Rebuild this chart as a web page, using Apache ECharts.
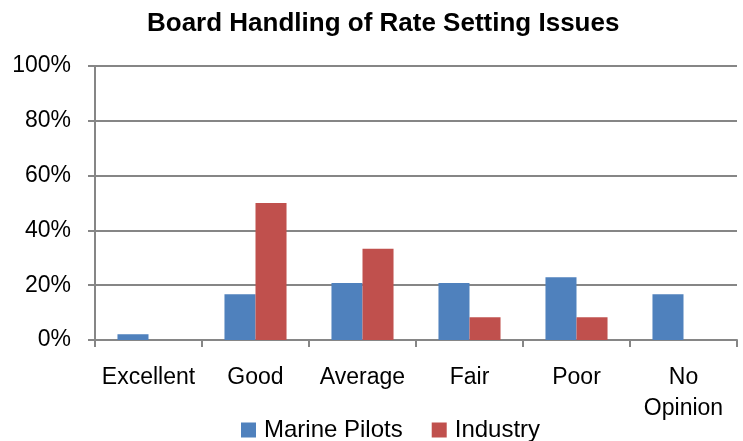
<!DOCTYPE html>
<html><head><meta charset="utf-8">
<script src="https://cdn.jsdelivr.net/npm/echarts@6/dist/echarts.min.js"></script>
<style>html,body{margin:0;padding:0;background:#fff}#c{width:743px;height:441px}</style>
</head><body><div id="c"></div>
<script>
var categories = ['Excellent', 'Good', 'Average', 'Fair', 'Poor', 'No\nOpinion'];
var marinePilots = [2.1, 16.7, 20.8, 20.8, 22.9, 16.7];
var industry = [0, 50, 33.3, 8.3, 8.3, 0];
var seriesNames = ['Marine Pilots', 'Industry'];
var font = 'Liberation Sans, Arial, sans-serif';
var chart = echarts.init(document.getElementById('c'));
chart.setOption({
  animation: false,
  title: { text: 'Board Handling of Rate Setting Issues', left: 142, top: 6,
    textStyle: { fontFamily: font, fontWeight: 'bold', fontSize: 26, color: '#000' } },
  legend: { top: 413, left: 236, itemWidth: 15, itemHeight: 15, itemGap: 29, icon: 'rect',
    textStyle: { fontFamily: font, fontSize: 24, color: '#000', padding: [0, 0, 0, 3] }, data: seriesNames },
  grid: { left: 95, right: 6, top: 66, bottom: 101 },
  xAxis: { type: 'category', data: categories,
    axisLine: { lineStyle: { color: '#868686', width: 2 } },
    axisTick: { show: true, length: 7, lineStyle: { color: '#868686', width: 2 } },
    axisLabel: { interval: 0, fontFamily: font, fontSize: 23, color: '#000', margin: 22, lineHeight: 31 } },
  yAxis: { type: 'value', min: 0, max: 100, interval: 20,
    axisLine: { show: true, lineStyle: { color: '#868686', width: 2 } },
    axisTick: { show: true, length: 7, lineStyle: { color: '#868686', width: 2 } },
    splitLine: { lineStyle: { color: '#868686', width: 2 } },
    axisLabel: { fontFamily: font, fontSize: 23, color: '#000', margin: 24, formatter: '{value}%' } },
  series: [
    { name: seriesNames[0], type: 'bar', data: marinePilots, barGap: '0%', barCategoryGap: '42%',
      itemStyle: { color: '#4F81BD' } },
    { name: seriesNames[1], type: 'bar', data: industry, barGap: '0%', barCategoryGap: '42%',
      itemStyle: { color: '#C0504D' } }
  ]
});
</script></body></html>
